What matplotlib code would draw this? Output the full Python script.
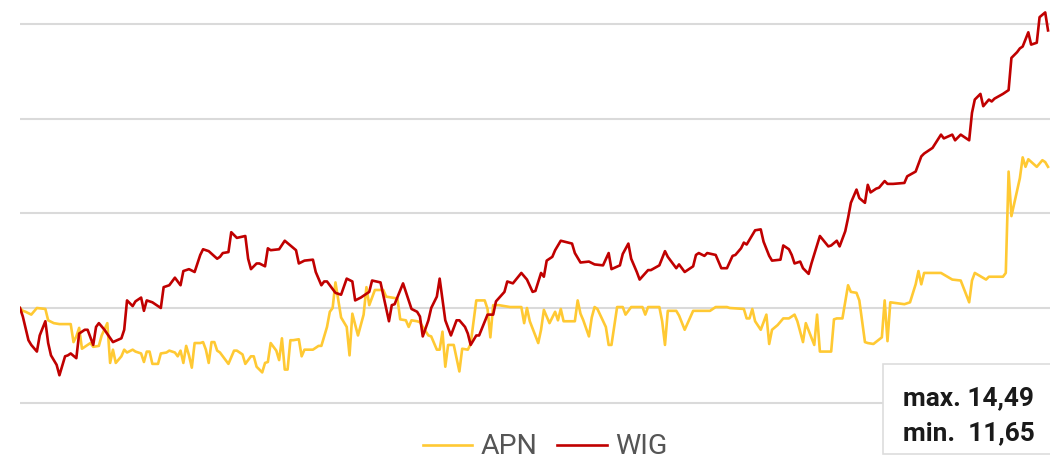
import matplotlib
matplotlib.use('Agg')
import matplotlib.pyplot as plt
from matplotlib.patches import Rectangle
from matplotlib.lines import Line2D

# day of the 12-month window and change against the first day, in %
apn_day = [0, 1, 2, 4, 6, 9, 10, 12, 14, 18, 19, 20, 21, 22, 24, 25, 26, 28, 29, 31,
           32, 33, 34, 36, 37, 38, 40, 41, 43, 44, 45, 46, 47, 49, 50, 52, 53, 55, 56, 57,
           58, 59, 60, 61, 62, 64, 65, 66, 67, 68, 69, 70, 71, 74, 76, 77, 79, 80, 82, 83,
           84, 86, 87, 88, 89, 91, 92, 93, 94, 95, 96, 97, 99, 100, 101, 104, 106, 107, 109, 110,
           111, 112, 114, 116, 117, 118, 120, 122, 123, 124, 126, 129, 130, 134, 135, 137, 138, 139, 141, 142,
           143, 145, 146, 148, 149, 150, 151, 152, 153, 154, 156, 157, 159, 160, 162, 165, 166, 167, 168, 170,
           172, 174, 178, 179, 180, 181, 184, 185, 186, 188, 190, 191, 192, 193, 197, 198, 199, 200, 202, 203,
           204, 205, 208, 209, 210, 212, 214, 215, 217, 221, 222, 223, 227, 228, 229, 230, 233, 234, 236, 239,
           245, 247, 251, 252, 257, 258, 259, 260, 261, 263, 265, 266, 267, 269, 271, 273, 275, 276, 278, 279,
           282, 283, 284, 288, 289, 290, 292, 294, 295, 297, 298, 300, 301, 303, 306, 307, 308, 309, 314, 316,
           318, 319, 320, 321, 327, 331, 334, 337, 338, 339, 343, 344, 349, 350, 351, 352, 355, 356, 357, 358,
           361, 363, 364, 365]
apn_pct = [0.0, -0.3, -0.4, -0.7, 0.0, -0.1, -1.3, -1.6, -1.7, -1.7, -3.6, -3.0, -2.1, -4.3, -3.9, -3.7, -4.1, -4.0, -2.9, -1.6,
           -5.8, -4.4, -5.8, -5.1, -4.4, -4.7, -4.4, -4.6, -4.8, -5.7, -4.6, -4.6, -5.9, -5.9, -4.8, -4.7, -4.5, -4.7, -5.1, -4.5,
           -5.8, -4.0, -5.0, -6.3, -3.7, -3.7, -3.6, -4.4, -5.8, -3.6, -3.6, -4.5, -4.7, -5.9, -4.5, -4.5, -4.9, -5.9, -5.1, -5.1,
           -6.2, -6.8, -5.8, -5.7, -3.7, -4.5, -5.5, -3.2, -6.5, -6.5, -3.4, -3.4, -3.3, -5.1, -4.4, -4.4, -4.0, -4.0, -2.0, -0.4,
           0.0, 2.7, -1.0, -2.0, -5.0, -0.6, -2.9, -0.7, 2.2, 0.3, 1.9, 1.9, 1.2, 1.0, -1.2, -1.3, -2.0, -1.3, -1.4, -1.5,
           -2.0, -2.9, -3.0, -4.4, -4.4, -2.5, -6.2, -3.9, -3.9, -3.9, -6.7, -4.3, -4.4, -3.8, 0.8, 0.8, -0.1, -3.1, 0.3, 0.3,
           0.2, 0.1, 0.1, -1.6, 0.0, -1.4, -3.7, -2.3, -0.2, -1.6, -0.4, -1.3, -0.1, -1.4, -1.4, 0.8, -0.6, -1.3, -3.0, -1.0,
           0.1, -0.1, -2.0, -3.9, -3.9, 0.1, 0.1, -0.7, 0.1, 0.1, -0.7, 0.1, 0.1, -1.4, -3.9, -0.3, -0.3, -0.8, -2.3, -0.3,
           -0.3, 0.1, 0.1, 0.0, -0.1, -1.1, -1.1, -0.1, -1.4, -2.3, -0.7, -3.8, -2.3, -1.8, -1.1, -1.1, -0.7, -1.4, -3.6, -1.6,
           -3.9, -0.7, -4.6, -4.6, -1.2, -1.1, -1.1, 2.4, 1.7, 1.6, 0.8, -3.6, -3.7, -3.8, -3.1, 0.8, -3.5, 0.6, 0.4, 0.6,
           2.5, 3.9, 2.5, 3.7, 3.7, 3.0, 2.9, 0.6, 2.9, 3.7, 3.0, 3.3, 3.3, 3.7, 14.4, 9.7, 13.7, 15.9, 14.9, 15.7,
           14.9, 15.6, 15.4, 14.9]

wig_day = [0, 1, 3, 4, 6, 7, 9, 10, 11, 13, 14, 16, 17, 18, 20, 21, 23, 24, 26, 27,
           28, 30, 33, 36, 37, 38, 40, 41, 43, 44, 45, 47, 50, 51, 53, 54, 55, 57, 58, 60,
           62, 64, 65, 67, 70, 71, 72, 74, 75, 77, 80, 81, 82, 84, 85, 87, 88, 89, 92, 94,
           98, 99, 101, 104, 105, 107, 108, 109, 112, 114, 116, 118, 119, 121, 124, 125, 128, 131, 132, 133,
           136, 139, 141, 142, 143, 145, 146, 148, 149, 151, 153, 155, 156, 158, 159, 160, 162, 163, 166, 168,
           169, 172, 173, 175, 178, 180, 182, 183, 185, 186, 187, 189, 190, 192, 196, 197, 199, 202, 204, 207,
           209, 210, 213, 214, 216, 217, 219, 220, 223, 224, 227, 229, 230, 233, 234, 236, 239, 240, 241, 243,
           244, 247, 249, 251, 253, 254, 256, 257, 258, 261, 263, 264, 266, 267, 270, 271, 273, 274, 275, 277,
           278, 280, 281, 284, 287, 288, 290, 291, 293, 294, 295, 297, 298, 300, 301, 302, 304, 305, 307, 308,
           310, 314, 315, 318, 320, 321, 324, 327, 328, 331, 332, 334, 337, 338, 339, 341, 342, 344, 345, 346,
           349, 351, 352, 354, 355, 356, 358, 359, 361, 362, 364, 365]
wig_pct = [0.0, -0.9, -3.4, -3.9, -4.6, -2.9, -1.4, -3.7, -5.0, -6.0, -7.1, -5.1, -5.0, -4.8, -5.3, -2.7, -2.3, -2.3, -3.9, -2.0,
           -1.6, -2.3, -3.6, -3.2, -2.3, 0.8, 0.2, 0.7, 1.1, -0.3, 0.8, 0.6, 0.0, 2.2, 2.4, 2.8, 3.2, 2.4, 3.9, 4.1,
           3.8, 5.6, 6.2, 6.0, 5.2, 5.4, 5.8, 5.9, 8.0, 7.4, 7.6, 5.2, 4.1, 4.7, 4.7, 4.4, 6.3, 6.1, 6.2, 7.1,
           6.1, 4.7, 5.0, 5.1, 3.8, 2.4, 2.8, 2.8, 1.6, 1.4, 3.1, 2.8, 0.8, 1.1, 1.7, 2.9, 2.7, -1.4, 0.3, 0.4,
           2.6, -0.1, -0.4, -0.9, -3.0, -1.3, 0.0, 1.2, 3.1, -1.3, -2.9, -1.3, -1.3, -2.0, -2.7, -3.9, -2.9, -2.9, -0.7, -0.7,
           0.7, 1.7, 2.8, 2.6, 3.7, 3.0, 1.7, 1.8, 3.7, 3.3, 5.0, 5.4, 6.1, 7.1, 6.8, 5.8, 4.8, 4.9, 4.6, 4.5,
           5.8, 4.1, 4.5, 5.7, 6.8, 5.2, 3.8, 3.0, 4.0, 4.0, 4.5, 6.0, 5.4, 4.2, 4.6, 3.8, 4.4, 5.6, 5.8, 5.5,
           5.8, 5.6, 4.2, 4.2, 5.5, 5.6, 6.3, 6.9, 6.7, 8.2, 8.3, 7.0, 5.5, 5.0, 5.1, 6.6, 6.2, 5.6, 4.7, 4.9,
           4.2, 3.6, 4.7, 7.6, 6.5, 6.6, 7.1, 6.5, 8.1, 9.5, 11.1, 12.5, 11.6, 11.1, 13.0, 12.2, 12.6, 12.7, 13.4, 13.1,
           13.1, 13.2, 13.9, 14.4, 16.0, 16.3, 16.9, 18.3, 17.9, 18.3, 17.7, 18.3, 17.7, 20.6, 22.0, 22.6, 21.3, 22.0, 21.8, 22.1,
           22.6, 23.0, 26.4, 27.0, 27.4, 27.6, 29.1, 27.8, 28.0, 30.7, 31.2, 29.3]

series_names = ['APN', 'WIG']
apn_max = '14,49'
apn_min = '11,65'
grid_levels = [-10, 0, 10, 20, 30]

yellow = '#ffc933'
red = '#c00000'
narrow = ['Liberation Sans Narrow', 'Roboto', 'DejaVu Sans']

fig = plt.figure(figsize=(10.5, 4.59), dpi=100)
ax = fig.add_axes([20 / 1050, 1 - 412.2 / 459, 1030 / 1050, 412.1 / 459])

for lvl in grid_levels:
    ax.axhline(lvl, color='#dadada', lw=1.5, zorder=1)

ax.plot(apn_day, apn_pct, color=yellow, lw=1.9, zorder=2)
ax.plot(wig_day, wig_pct, color=red, lw=1.9, zorder=3)

ax.set_xlim(0, 365.7)
ax.set_ylim(-11, 32.5)
ax.axis('off')

# legend under the plot
handles = [Line2D([], [], color=yellow, lw=1.9), Line2D([], [], color=red, lw=1.9)]
fig.legend(handles, series_names, loc='center', bbox_to_anchor=(545 / 1050, 1 - 447 / 459),
           ncol=2, frameon=False, handlelength=1.75, handletextpad=0.28, columnspacing=0.7,
           borderpad=0, labelcolor='#555555', prop={'family': narrow, 'size': 20.5})

# max / min box in the lower right corner
box = Rectangle((883 / 1050, 1 - 454 / 459), 180 / 1050, 90 / 459, transform=fig.transFigure,
                facecolor='white', edgecolor='#dddddd', lw=1.2, zorder=5)
fig.patches.append(box)
fig.text(903 / 1050, 1 - 405 / 459, 'max. ' + apn_max, family=narrow, weight='bold',
         size=18.9, color='#1a1a1a', va='baseline', zorder=6)
fig.text(903 / 1050, 1 - 440 / 459, 'min.  ' + apn_min, family=narrow, weight='bold',
         size=18.9, color='#1a1a1a', va='baseline', zorder=6)

fig.savefig('out.png', dpi=100)
